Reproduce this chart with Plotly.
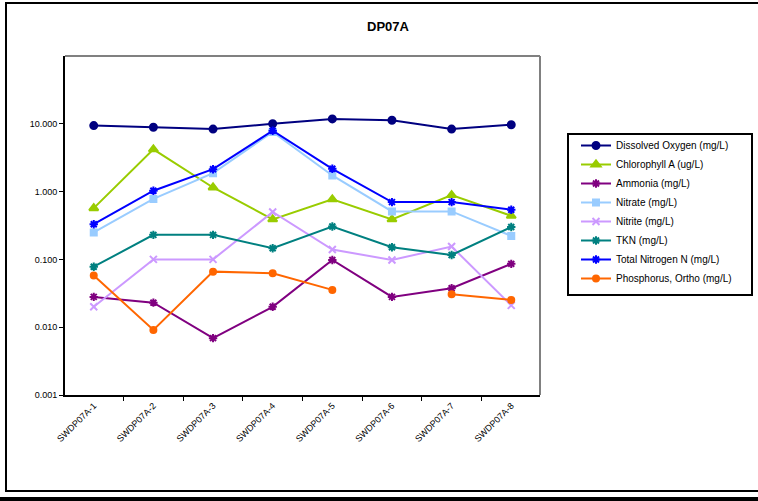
import plotly.graph_objects as go

# sample stations
stations = ["SWDP07A-1", "SWDP07A-2", "SWDP07A-3", "SWDP07A-4",
            "SWDP07A-5", "SWDP07A-6", "SWDP07A-7", "SWDP07A-8"]

dissolved_oxygen = [9.4, 8.9, 8.35, 10.0, 11.8, 11.3, 8.35, 9.7]
chlorophyll_a = [0.57, 4.2, 1.15, 0.39, 0.77, 0.39, 0.89, 0.44]
ammonia = [0.028, 0.023, 0.0069, 0.020, 0.098, 0.028, 0.0376, 0.086]
nitrate = [0.25, 0.78, 1.87, 7.6, 1.73, 0.51, 0.51, 0.222]
nitrite = [0.020, 0.10, 0.10, 0.50, 0.14, 0.098, 0.155, 0.021]
tkn = [0.078, 0.23, 0.23, 0.146, 0.305, 0.151, 0.116, 0.30]
total_nitrogen = [0.33, 1.03, 2.14, 7.9, 2.17, 0.70, 0.70, 0.54]
phosphorus_ortho = [0.058, 0.0091, 0.066, 0.0625, 0.0355, None, 0.0306, 0.0252]

series = [
    ("Dissolved Oxygen (mg/L)", dissolved_oxygen, "#000080", "circle", 7),
    ("Chlorophyll A (ug/L)", chlorophyll_a, "#99CC00", "triangle-up", 8),
    ("Ammonia (mg/L)", ammonia, "#800080", "asterisk-open", 7),
    ("Nitrate (mg/L)", nitrate, "#99CCFF", "square", 6),
    ("Nitrite (mg/L)", nitrite, "#CC99FF", "x-thin-open", 7),
    ("TKN (mg/L)", tkn, "#008080", "asterisk-open", 7),
    ("Total Nitrogen N (mg/L)", total_nitrogen, "#0000FF", "asterisk-open", 7),
    ("Phosphorus, Ortho (mg/L)", phosphorus_ortho, "#FF6600", "circle", 6),
]

fig = go.Figure()
for name, vals, color, symbol, size in series:
    fig.add_trace(go.Scatter(
        x=stations, y=vals, name=name, mode="lines+markers",
        connectgaps=False,
        line=dict(color=color, width=2),
        marker=dict(symbol=symbol, size=size, color=color,
                    line=dict(color=color, width=2)),
    ))

# plot area: x 65..540, y 56..395 (pixels)
W, H = 758, 501
L, R, T, B = 65, 540, 56, 395


def px(x):
    return (x - L) / (R - L)


def py(y):
    return (B - y) / (B - T)


shapes = [
    # grey plot-area border top and right
    dict(type="line", xref="paper", yref="paper", x0=0, x1=1, y0=1, y1=1,
         line=dict(color="#808080", width=2)),
    dict(type="line", xref="paper", yref="paper", x0=1, x1=1, y0=0, y1=1,
         line=dict(color="#808080", width=2)),
    # outer chart border
    dict(type="rect", xref="paper", yref="paper",
         x0=px(6), x1=px(780), y0=py(491), y1=py(3),
         line=dict(color="black", width=2)),
    dict(type="line", xref="paper", yref="paper",
         x0=px(-5), x1=px(780), y0=py(499), y1=py(499),
         line=dict(color="black", width=4)),
    # legend frame
    dict(type="rect", xref="paper", yref="paper",
         x0=px(568), x1=px(752), y0=py(295), y1=py(134),
         line=dict(color="black", width=2), fillcolor="white", layer="below"),
]

fig.update_layout(
    width=W, height=H,
    margin=dict(l=L, r=W - R, t=T, b=H - B),
    paper_bgcolor="white", plot_bgcolor="white",
    font=dict(family="Liberation Sans, Arial, sans-serif", size=9, color="black"),
    title=dict(text="<b>DP07A</b>", x=388 / W, xref="container", xanchor="center",
               y=1 - 26 / H, yref="container", yanchor="middle",
               font=dict(size=13, color="black")),
    xaxis=dict(type="category", showline=True, linecolor="black", linewidth=2,
               ticks="outside", ticklen=4, tickcolor="black", tickson="boundaries",
               tickangle=-45, showgrid=False, zeroline=False, mirror=False,
               tickfont=dict(size=9)),
    yaxis=dict(type="log", range=[-3, 2], showline=True, linecolor="black",
               linewidth=2, ticks="outside", ticklen=4, tickcolor="black",
               tickvals=[0.001, 0.01, 0.1, 1, 10],
               ticktext=["0.001", "0.010", "0.100", "1.000", "10.000"],
               showgrid=False, zeroline=False, tickfont=dict(size=9)),
    legend=dict(x=px(576), y=py(131), xanchor="left", yanchor="top",
                borderwidth=0, bgcolor="rgba(0,0,0,0)",
                font=dict(size=10), itemwidth=30, tracegroupgap=0),
    shapes=shapes,
    showlegend=True,
)

fig.write_html("out.html", config={"displayModeBar": False},
               post_script="document.body.style.margin='0';")
